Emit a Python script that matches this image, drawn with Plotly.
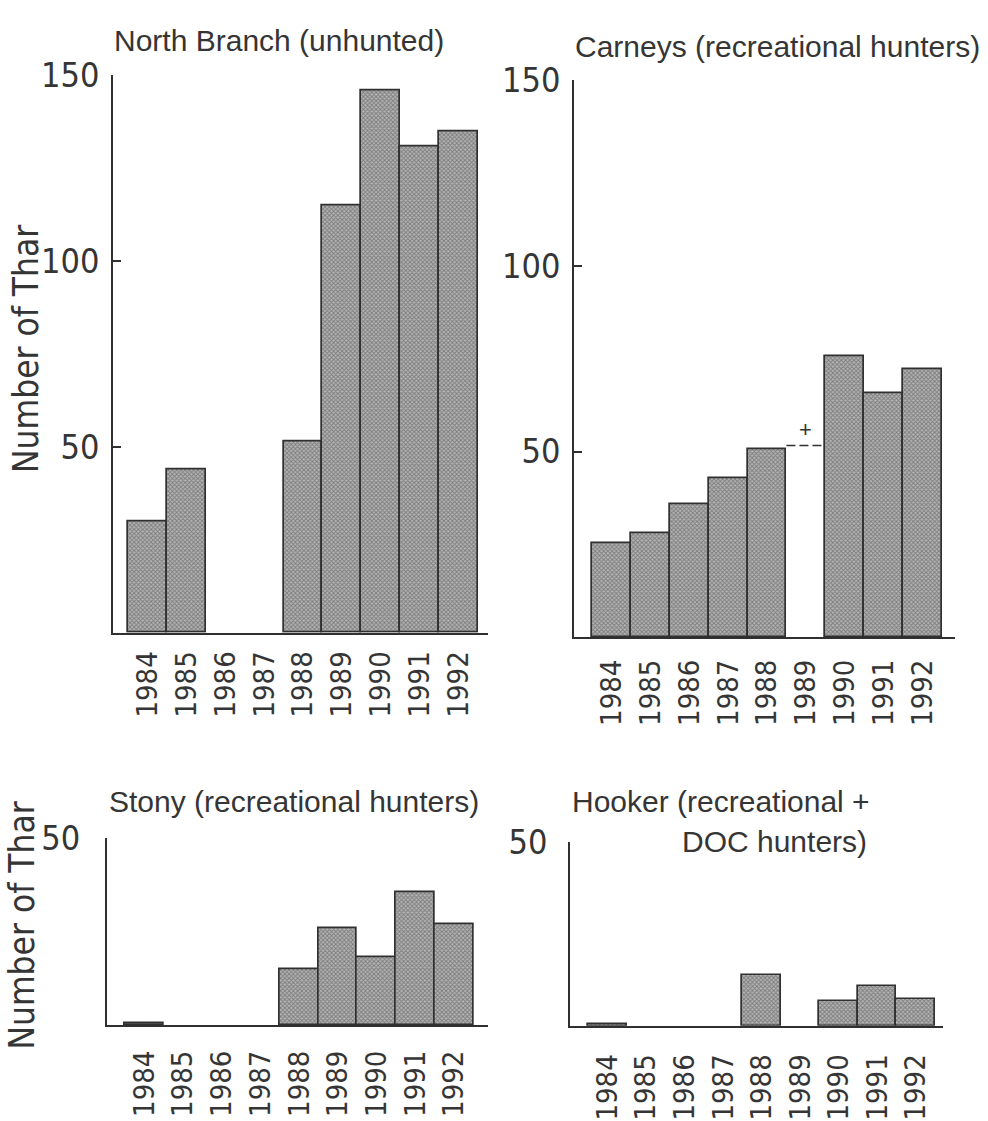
import plotly.graph_objects as go

# ---------------- data ----------------
years = [1984, 1985, 1986, 1987, 1988, 1989, 1990, 1991, 1992]
year_labels = [str(y) for y in years]

north_branch = [30, 44, None, None, 51.5, 115, 146, 131, 135]
carneys = [25.4, 27.9, 35.8, 42.7, 50.5, None, 75.6, 65.7, 72.2]
carneys_1989_estimate = 51.6
stony = [0.5, None, None, None, 14.9, 25.8, 18.2, 35.5, 27.1]
hooker = [0.4, None, None, None, 13.9, None, 6.7, 10.8, 7.4]

titles = ["North Branch (unhunted)", "Carneys (recreational hunters)",
          "Stony (recreational hunters)"]
hooker_title_lines = ["Hooker (recreational +", "DOC hunters)"]
y_title = "Number of Thar"
top_ticks = [50, 100, 150]
bottom_ticks = [50]

# ---------------- styling ----------------
W, H = 988, 1121
TXT = "#353535"
EDGE = "#303030"
REG = "Liberation Sans, Arial, Helvetica, sans-serif"
NARROW = ("Liberation Sans Narrow, Arial Narrow, DejaVu Sans Condensed, "
          "Liberation Sans, sans-serif")


def px_x(v):
    return v / W


def px_y(v):
    return 1 - v / H


panels = [
    dict(vals=north_branch, n="", xdom=[113, 488], ydom=[636.1, 57.5],
         xr=[1983.114, 1992.757], yr=[0, 150], ticks=top_ticks,
         xstand=5, ystand=5),
    dict(vals=carneys, n="2", xdom=[574, 955], ydom=[640.6, 62.5],
         xr=[1983.037, 1992.834], yr=[0, 150], ticks=top_ticks,
         xstand=9, ystand=5),
    dict(vals=stony, n="3", xdom=[106.7, 488.3], ydom=[1043.3, 849.3],
         xr=[1983.027, 1992.888], yr=[0, 50], ticks=bottom_ticks,
         xstand=12, ystand=18),
    dict(vals=hooker, n="4", xdom=[570, 943.3], ydom=[1044.0, 853.3],
         xr=[1983.025, 1992.716], yr=[0, 50], ticks=bottom_ticks,
         xstand=15, ystand=14),
]

fig = go.Figure()
layout = dict(
    width=W, height=H, margin=dict(l=0, r=0, t=0, b=0),
    paper_bgcolor="white", plot_bgcolor="white",
    showlegend=False, bargap=0,
)

for p in panels:
    n = p["n"]
    fig.add_trace(go.Bar(
        x=years, y=p["vals"], width=1,
        marker=dict(color="#b4b4b4", line=dict(color=EDGE, width=1.7),
                    pattern=dict(shape="x", size=3, solidity=0.5,
                                 fgcolor="#444444", bgcolor="#b4b4b4")),
        xaxis="x" + n, yaxis="y" + n, hoverinfo="skip",
    ))
    layout["xaxis" + n] = dict(
        domain=[px_x(p["xdom"][0]), px_x(p["xdom"][1])],
        range=p["xr"], anchor="y" + n, showgrid=False, zeroline=False,
        showline=True, linecolor=EDGE, linewidth=1.6,
        tickmode="array", tickvals=years, ticktext=year_labels,
        tickangle=-90, ticks="", ticklabelstandoff=p["xstand"],
        tickfont=dict(family=NARROW, size=29, color=TXT),
    )
    layout["yaxis" + n] = dict(
        domain=[px_y(p["ydom"][0]), px_y(p["ydom"][1])],
        range=p["yr"], anchor="x" + n, showgrid=False, zeroline=False,
        showline=True, linecolor=EDGE, linewidth=1.6,
        tickmode="array", tickvals=p["ticks"],
        ticks="inside", ticklen=8, tickwidth=1.5, tickcolor=EDGE,
        ticklabelstandoff=p["ystand"],
        tickfont=dict(family=NARROW, size=34, color=TXT),
    )

# Carneys 1989 estimate: dashed line + plus sign
i89 = years.index(1989)
fig.add_trace(go.Scatter(
    x=[years[i89] - 0.5, years[i89] + 0.5],
    y=[carneys_1989_estimate, carneys_1989_estimate],
    mode="lines", line=dict(color=EDGE, width=1.5, dash="9px,4px"),
    xaxis="x2", yaxis="y2", hoverinfo="skip",
))

layout["annotations"] = [
    dict(x=years[i89], y=carneys_1989_estimate, xref="x2", yref="y2",
         text="+", showarrow=False, yanchor="middle", yshift=16,
         font=dict(family=REG, size=22, color=TXT)),
    dict(x=px_x(278.5), y=px_y(21), xref="paper", yref="paper",
         text=titles[0], showarrow=False, xanchor="center", yanchor="middle",
         font=dict(family=REG, size=30, color=TXT)),
    dict(x=px_x(777.5), y=px_y(27), xref="paper", yref="paper",
         text=titles[1], showarrow=False, xanchor="center", yanchor="middle",
         font=dict(family=REG, size=30, color=TXT)),
    dict(x=px_x(294), y=px_y(811), xref="paper", yref="paper",
         text=titles[2], showarrow=False, xanchor="center", yanchor="middle",
         font=dict(family=REG, size=30, color=TXT)),
    dict(x=px_x(721), y=px_y(811), xref="paper", yref="paper",
         text=hooker_title_lines[0], showarrow=False, xanchor="center",
         yanchor="middle", font=dict(family=REG, size=30, color=TXT)),
    dict(x=px_x(774), y=px_y(853), xref="paper", yref="paper",
         text=hooker_title_lines[1], showarrow=False, xanchor="center",
         yanchor="middle", font=dict(family=REG, size=30, color=TXT)),
    dict(x=px_x(26), y=px_y(341.5), xref="paper", yref="paper",
         text=y_title, textangle=-90, showarrow=False, xanchor="center",
         yanchor="middle", font=dict(family=NARROW, size=35, color=TXT)),
    dict(x=px_x(22), y=px_y(940), xref="paper", yref="paper",
         text=y_title, textangle=-90, showarrow=False, xanchor="center",
         yanchor="middle", font=dict(family=NARROW, size=35, color=TXT)),
]

fig.update_layout(**layout)
fig.write_html("out.html",
               config={"displayModeBar": False},
               post_script="document.body.style.margin='0px';")
